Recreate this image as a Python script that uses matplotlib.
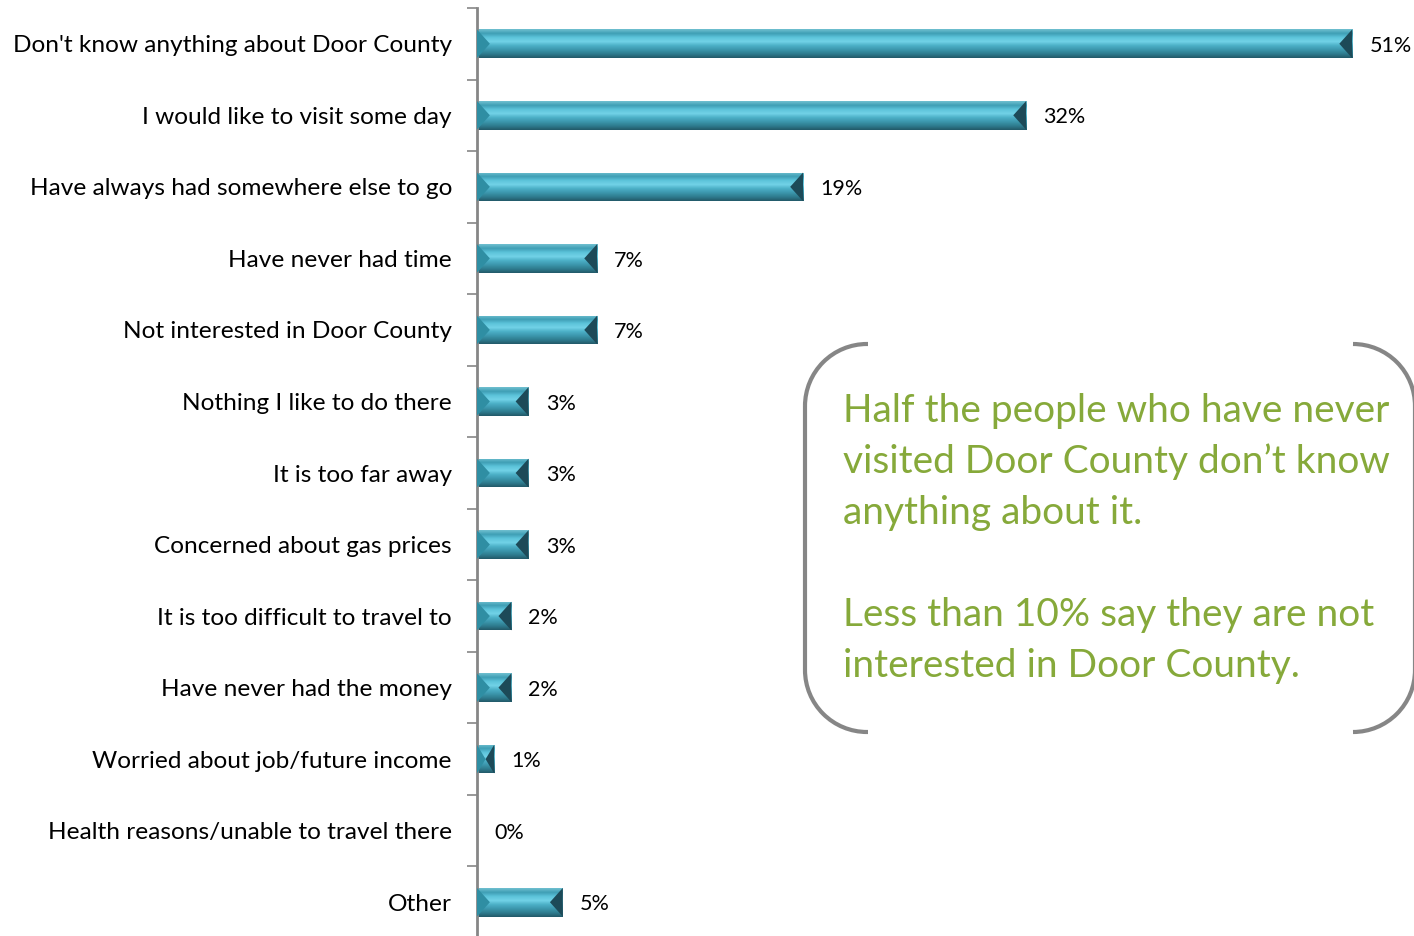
import numpy as np
import matplotlib
matplotlib.use("Agg")
import matplotlib.pyplot as plt
from matplotlib.colors import LinearSegmentedColormap
from matplotlib.patches import Polygon, Arc
from matplotlib.lines import Line2D

categories = [
    "Don't know anything about Door County",
    "I would like to visit some day",
    "Have always had somewhere else to go",
    "Have never had time",
    "Not interested in Door County",
    "Nothing I like to do there",
    "It is too far away",
    "Concerned about gas prices",
    "It is too difficult to travel to",
    "Have never had the money",
    "Worried about job/future income",
    "Health reasons/unable to travel there",
    "Other",
]
values = [51, 32, 19, 7, 7, 3, 3, 3, 2, 2, 1, 0, 5]

note_lines = [
    "Half the people who have never",
    "visited Door County don\u2019t know",
    "anything about it.",
    "",
    "Less than 10% say they are not",
    "interested in Door County.",
]

FONT = ["Lato", "DejaVu Sans"]
GREEN = "#86a93a"
GREY = "#868686"

# shaded cylinder-like face for the bars, top to bottom
bar_cmap = LinearSegmentedColormap.from_list(
    "bevel",
    ["#6fbfd0", "#3f9fb5", "#5cc3da", "#72d2e7", "#4cb0c7",
     "#3c97ad", "#2f7d90", "#235a69"],
)

fig = plt.figure(figsize=(14.14, 9.36), dpi=100)
W, H = 1414, 936
ax = fig.add_axes([477 / W, (936 - 938) / H, (W - 477) / W, 930 / H])

n = len(categories)
ypos = np.arange(n)
bar_h = 0.40
x_max = (W - 477) / 17.16

bars = ax.barh(ypos, values, height=bar_h, color="none", edgecolor="none")
grad = np.linspace(0, 1, 64).reshape(-1, 1)
for rect, v in zip(bars, values):
    x0, y0 = rect.get_x(), rect.get_y()
    w, h = rect.get_width(), rect.get_height()
    ax.text(x0 + w + 1.0, y0 + h / 2 + 0.03, f"{v}%", va="center",
            ha="left", fontsize=15.5, family=FONT, color="black")
    if v <= 0:
        continue
    im = ax.imshow(grad, cmap=bar_cmap, aspect="auto",
                   extent=(x0, x0 + w, y0 + h, y0), origin="upper",
                   interpolation="bilinear", zorder=2)
    im.set_clip_path(rect)
    bx = min(0.75, w / 2)
    ym = y0 + h * 0.5
    left = Polygon([(x0, y0), (x0 + bx, ym), (x0, y0 + h)], closed=True,
                   facecolor="#2f8ea3", edgecolor="none", zorder=3)
    right = Polygon([(x0 + w, y0), (x0 + w - bx, ym), (x0 + w, y0 + h)],
                    closed=True, facecolor="#1d4a58", edgecolor="none",
                    zorder=3)
    ax.add_patch(left)
    ax.add_patch(right)

ax.set_xlim(0, x_max)
ax.set_ylim(n - 0.5, -0.5)
ax.set_yticks(ypos)
ax.set_yticklabels(categories, fontsize=17.6, family=FONT)
ax.tick_params(axis="y", which="major", length=0, pad=18)
ax.set_yticks(np.arange(n + 1) - 0.5, minor=True)
ax.tick_params(axis="y", which="minor", length=7, width=1.2, color=GREY,
               direction="out")
ax.set_xticks([])
for side in ("top", "right", "bottom"):
    ax.spines[side].set_visible(False)
ax.spines["left"].set_color(GREY)
ax.spines["left"].set_linewidth(2)

# callout text with rounded bracket frame, drawn in pixel coordinates
ov = fig.add_axes([0, 0, 1, 1], facecolor="none")
ov.set_xlim(0, W)
ov.set_ylim(H, 0)
ov.axis("off")

top, bot, r = 344, 732, 62
lx, rx = 805, 1353
kw = dict(color=GREY, lw=3.0, solid_capstyle="butt")
ov.add_line(Line2D([868, lx + r], [top, top], **kw))
ov.add_line(Line2D([lx, lx], [top + r, bot - r], **kw))
ov.add_line(Line2D([868, lx + r], [bot, bot], **kw))
ov.add_patch(Arc((lx + r, top + r), 2 * r, 2 * r, theta1=180, theta2=270,
                 color=GREY, lw=3.0))
ov.add_patch(Arc((lx + r, bot - r), 2 * r, 2 * r, theta1=90, theta2=180,
                 color=GREY, lw=3.0))
ov.add_patch(Arc((rx, top + r), 2 * r, 2 * r, theta1=270, theta2=360,
                 color=GREY, lw=3.0))
ov.add_line(Line2D([rx + r, rx + r], [top + r, bot - r], **kw))
ov.add_patch(Arc((rx, bot - r), 2 * r, 2 * r, theta1=0, theta2=90,
                 color=GREY, lw=3.0))

for i, line in enumerate(note_lines):
    ov.text(843, 411 + i * 51, line, color=GREEN, fontsize=28, family=FONT,
            ha="left", va="center")

fig.savefig("out.png", dpi=100, facecolor="white")
